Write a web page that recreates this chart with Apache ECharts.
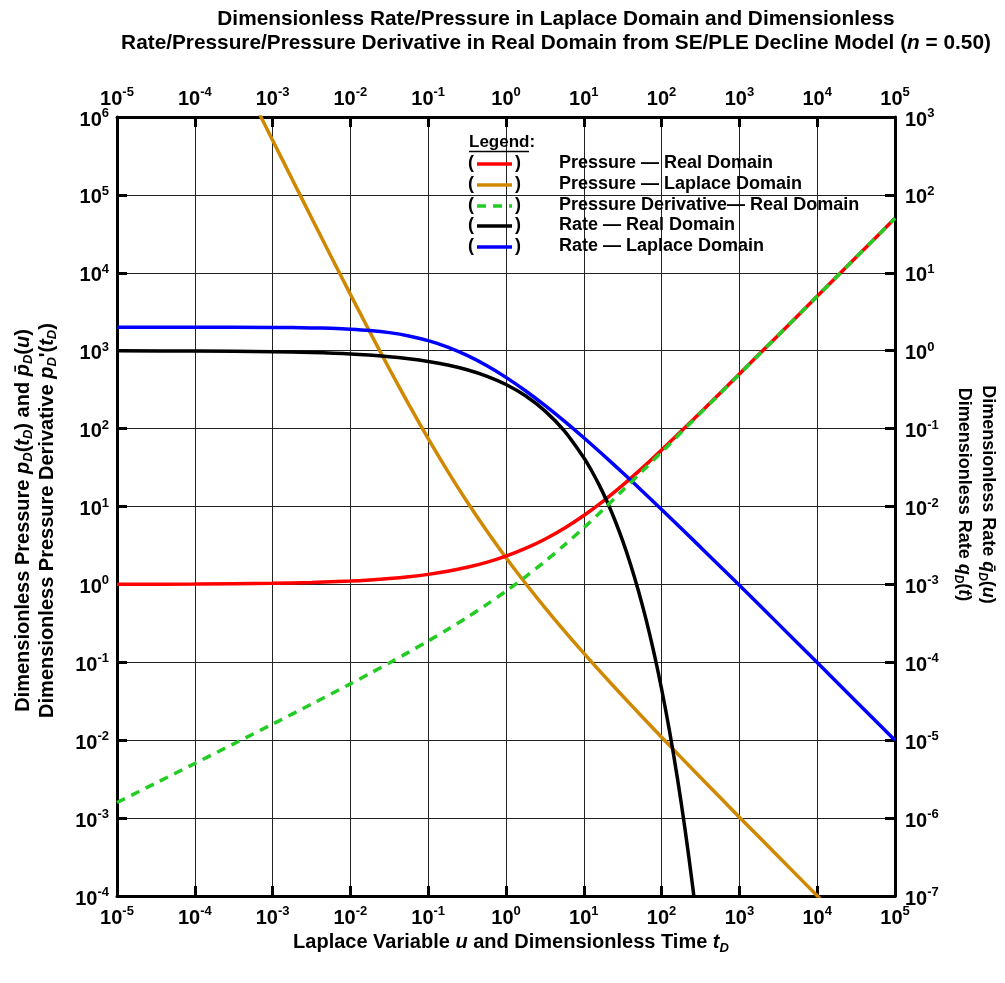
<!DOCTYPE html>
<html>
<head>
<meta charset="utf-8">
<script src="https://cdn.jsdelivr.net/npm/echarts@6/dist/echarts.min.js"></script>
<style>
html,body{margin:0;padding:0;background:#fff;}
#chart{width:1005px;height:983px;}
</style>
</head>
<body>
<div id="chart"></div>
<script>
// ---- Data (log-log values) ----
// Rate — Laplace Domain (right axis), vs u
const uRateL = [1e-5, 1e-4, 1e-3, 1.778e-3, 3.162e-3, 5.623e-3, 0.01, 0.01778, 0.03162, 0.05623, 0.1, 0.1778, 0.3162, 0.5623, 1, 1.778, 3.162, 5.623, 10, 17.78, 31.62, 56.23, 100, 316.2, 1000, 3162, 10000, 31623, 100000];
const qRateL = [2.0000, 1.9988, 1.9881, 1.9790, 1.9632, 1.9360, 1.8906, 1.8173, 1.7057, 1.5482, 1.3454, 1.1124, 0.87039, 0.64501, 0.45436, 0.30601, 0.19839, 0.12464, 0.07635, 0.045845, 0.027102, 0.015830, 0.0091616, 0.0030095, 0.00097247, 0.00031129, 9.9119e-5, 3.1466e-5, 9.972e-6];

// Pressure — Laplace Domain (left axis), vs u
const uPresL = [3.162e-4, 5.623e-4, 1e-3, 1.778e-3, 3.162e-3, 5.623e-3, 0.01, 0.01778, 0.03162, 0.05623, 0.1, 0.1778, 0.3162, 0.5623, 1, 1.778, 3.162, 5.623, 10, 17.78, 31.62, 56.23, 100, 316.2, 1000, 3162, 10000, 31623, 100000];
const pPresL = [5.0095e6, 1.5865e6, 5.0299e5, 1.5979e5, 50937, 16334, 5289.3, 1740.1, 586.27, 204.26, 74.327, 28.428, 11.489, 4.9027, 2.2009, 1.0334, 0.50406, 0.25372, 0.13098, 0.068977, 0.036898, 0.019976, 0.010915, 0.0033228, 0.0010283, 3.2124e-4, 1.00889e-4, 3.178e-5, 1.0028e-5];

// Rate — Real Domain (right axis), vs tD
const tRateR = [1e-5, 1e-4, 1e-3, 3.162e-3, 0.01, 0.03162, 0.05623, 0.1, 0.1778, 0.3162, 0.5623, 1, 1.778, 3.162, 5.623, 10, 12.59, 15.85, 19.95, 25.12, 31.62, 39.81, 50.12, 63.10, 79.43, 100, 125.9, 158.5, 199.5, 251.2, 316.2];
const qRateR = [0.99684, 0.99005, 0.96887, 0.94532, 0.90484, 0.83709, 0.78890, 0.72889, 0.65593, 0.56988, 0.47242, 0.36788, 0.26358, 0.16893, 0.093354, 0.042330, 0.028779, 0.018665, 0.011484, 0.0066582, 0.0036123, 0.0018187, 8.4219e-4, 3.5503e-4, 1.3469e-4, 4.540e-5, 1.3401e-5, 3.4085e-6, 7.3352e-7, 1.3089e-7, 1.8909e-8];

// Pressure — Real Domain (left axis), vs tD
const tPresR = [1e-5, 1e-4, 1e-3, 3.162e-3, 0.01, 0.01778, 0.03162, 0.05623, 0.1, 0.1778, 0.3162, 0.5623, 1, 1.778, 3.162, 5.623, 10, 17.78, 31.62, 56.23, 100, 316.2, 1000, 3162, 10000, 31623, 100000];
const pPresR = [1.0032, 1.0100, 1.0319, 1.0571, 1.1029, 1.1385, 1.1870, 1.2535, 1.3455, 1.4742, 1.6567, 1.9200, 2.3080, 2.8937, 3.803, 5.257, 7.654, 11.72, 18.78, 31.11, 53.0, 161.1, 503, 1584, 5003, 15814, 50003];

// Pressure Derivative — Real Domain (left axis), vs tD
const tDerivR = [1e-5, 3.162e-5, 1e-4, 3.162e-4, 1e-3, 3.162e-3, 0.01, 0.01778, 0.03162, 0.05623, 0.1, 0.1778, 0.3162, 0.5623, 1, 1.778, 3.162, 5.623, 10, 17.78, 31.62, 56.23, 100, 316.2, 1000, 3162, 10000, 31623, 100000];
const pDerivR = [0.001584, 0.0028207, 0.0050285, 0.0089817, 0.016098, 0.029026, 0.052889, 0.071835, 0.098136, 0.135084, 0.18775, 0.26419, 0.37752, 0.54973, 0.81875, 1.2516, 1.9694, 3.1941, 5.3374, 9.172, 16.1, 28.25, 50.05, 158.1, 500, 1581, 5000, 15811, 50000];

const seriesNames = ['Pressure \u2014 Real Domain', 'Pressure \u2014 Laplace Domain', 'Pressure Derivative\u2014 Real Domain', 'Rate \u2014 Real Domain', 'Rate \u2014 Laplace Domain'];
const seriesColors = ['#ff0000', '#d08800', '#22cc22', '#000000', '#0000ff'];

const zip = (xs, ys) => xs.map((x, i) => [x, ys[i]]);

const FONT = "'Liberation Sans', Arial, sans-serif";

const powRich = {
  b: {fontSize: 20, fontWeight: 'bold', fontFamily: FONT, color: '#000', lineHeight: 20, padding: [6, 0, 0, 0]},
  e: {fontSize: 13, fontWeight: 'bold', fontFamily: FONT, color: '#000', lineHeight: 13, verticalAlign: 'top'}
};
const powFmt = v => '{b|10}{e|' + Math.round(Math.log10(v)) + '}';

function makeNameRich(fs, sub) {
  return {
    n: {fontSize: fs, fontWeight: 'bold', fontFamily: FONT, color: '#000', lineHeight: 24},
    i: {fontSize: fs, fontWeight: 'bold', fontStyle: 'italic', fontFamily: FONT, color: '#000', lineHeight: 24},
    s: {fontSize: sub, fontWeight: 'bold', fontStyle: 'italic', fontFamily: FONT, color: '#000', lineHeight: 14, verticalAlign: 'bottom'}
  };
}

function logAxis(extra) {
  return Object.assign({
    type: 'log', logBase: 10, interval: 1,
    axisLine: {show: true, onZero: false, lineStyle: {color: '#000', width: 3}},
    axisTick: {show: true, inside: true, length: 10, lineStyle: {color: '#000', width: 3}},
    minorTick: {show: false},
    axisLabel: {formatter: powFmt, rich: powRich, margin: 10},
    splitLine: {show: false}
  }, extra);
}

const chart = echarts.init(document.getElementById('chart'), null, {renderer: 'canvas'});

const lineBase = (idx, data, yIdx, extra) => Object.assign({
  type: 'line', name: seriesNames[idx], data: data, xAxisIndex: 0, yAxisIndex: yIdx,
  showSymbol: false, symbol: 'none', smooth: 0.3, clip: true,
  lineStyle: {color: seriesColors[idx], width: 3.5}, itemStyle: {color: seriesColors[idx]},
  emphasis: {disabled: true}, animation: false
}, extra || {});

// legend drawn as graphic (parentheses style)
const LFONT = "bold 18px 'Liberation Sans', Arial, sans-serif";
const legendRowsY = [163, 184, 205, 225, 246];
const legendGraphics = [
  {type: 'text', x: 469, y: 142, style: {text: 'Legend:', font: "bold 17px 'Liberation Sans', Arial, sans-serif", fill: '#000', textVerticalAlign: 'middle'}, z: 100},
  {type: 'line', shape: {x1: 469, y1: 151.5, x2: 529, y2: 151.5}, style: {stroke: '#000', lineWidth: 1.6}, z: 100}
];
legendRowsY.forEach((y, i) => {
  legendGraphics.push({type: 'text', x: 468, y: y, style: {text: '(', font: LFONT, fill: '#000', textVerticalAlign: 'middle'}, z: 100});
  legendGraphics.push({type: 'text', x: 515, y: y, style: {text: ')', font: LFONT, fill: '#000', textVerticalAlign: 'middle'}, z: 100});
  legendGraphics.push({type: 'line', shape: {x1: 477, y1: y + 1, x2: 512, y2: y + 1}, style: {stroke: seriesColors[i], lineWidth: 3.5, lineDash: i === 2 ? [9, 7] : null}, z: 100});
  legendGraphics.push({type: 'text', x: 559, y: y, style: {text: seriesNames[i], font: LFONT, fill: '#000', textVerticalAlign: 'middle'}, z: 100});
});

const option = {
  backgroundColor: '#fff',
  animation: false,
  title: {
    text: 'Dimensionless Rate/Pressure in Laplace Domain and Dimensionless\nRate/Pressure/Pressure Derivative in Real Domain from SE/PLE Decline Model ({i|n} = 0.50)',
    left: 551, top: 2, textAlign: 'center',
    textStyle: {fontSize: 20.8, fontWeight: 'bold', fontFamily: FONT, color: '#000', lineHeight: 24,
      rich: {i: {fontSize: 20.8, fontWeight: 'bold', fontStyle: 'italic', fontFamily: FONT, color: '#000', lineHeight: 24}}}
  },
  grid: {left: 117, top: 117, right: 108, bottom: 87, containLabel: false},
  xAxis: [
    logAxis({position: 'bottom', min: 1e-5, max: 1e5,
      axisLabel: {formatter: powFmt, rich: powRich, margin: 9},
      splitLine: {show: true, lineStyle: {color: '#222', width: 1}},
      name: '{n|Laplace Variable }{i|u}{n| and Dimensionless Time }{i|t}{s|D}',
      nameLocation: 'middle', nameGap: 32,
      nameTextStyle: {rich: makeNameRich(20, 13), padding: [0, 0, 0, 10]}}),
    logAxis({position: 'top', min: 1e-5, max: 1e5,
      axisLabel: {formatter: powFmt, rich: powRich, margin: 11}})
  ],
  yAxis: [
    logAxis({position: 'left', min: 1e-4, max: 1e6,
      axisLabel: {formatter: powFmt, rich: powRich, margin: 8},
      splitLine: {show: true, lineStyle: {color: '#222', width: 1}},
      name: '{n|Dimensionless Pressure }{i|p}{s|D}{n|(}{i|t}{s|D}{n|) and }{i|p\u0304}{s|D}{n|(}{i|u}{n|)}\n{n|Dimensionless Pressure Derivative }{i|p}{s|D}{n|\'(}{i|t}{s|D}{n|)}',
      nameLocation: 'middle', nameGap: 58, nameRotate: 90,
      nameTextStyle: {rich: makeNameRich(20, 13), padding: [0, 28, 0, 0]}}),
    logAxis({position: 'right', min: 1e-7, max: 1e3,
      axisLabel: {formatter: powFmt, rich: powRich, margin: 10},
      name: '{n|Dimensionless Rate }{i|q\u0304}{s|D}{n|(}{i|u}{n|)}\n{n|Dimensionless Rate }{i|q}{s|D}{n|(}{i|t}{n|)}',
      nameLocation: 'middle', nameGap: 57, nameRotate: -90,
      nameTextStyle: {rich: makeNameRich(18, 12), padding: [0, 24, 0, 0]}})
  ],
  series: [
    lineBase(0, zip(tPresR, pPresR), 0, {z: 3}),
    lineBase(1, zip(uPresL, pPresL), 0, {z: 2}),
    lineBase(2, zip(tDerivR, pDerivR), 0, {z: 4, lineStyle: {color: seriesColors[2], width: 3.5, type: [9, 7]}}),
    lineBase(3, zip(tRateR, qRateR), 1, {z: 3}),
    lineBase(4, zip(uRateL, qRateL), 1, {z: 3})
  ],
  graphic: legendGraphics
};
chart.setOption(option);
</script>
</body>
</html>
